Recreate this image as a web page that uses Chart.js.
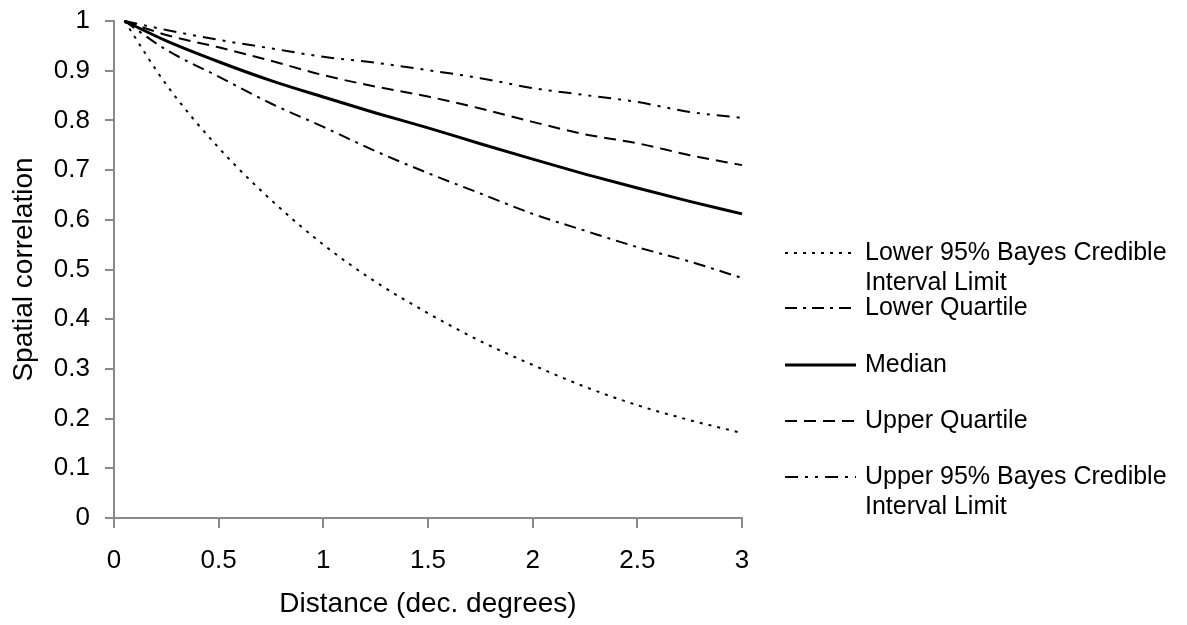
<!DOCTYPE html>
<html>
<head>
<meta charset="utf-8">
<title>Spatial correlation vs distance</title>
<script src="https://cdn.jsdelivr.net/npm/chart.js@4.4.1/dist/chart.umd.min.js"></script>
<style>
  html, body { margin: 0; padding: 0; background: #fff; }
  #wrap { width: 1187px; height: 625px; }
</style>
</head>
<body>
<div id="wrap"><canvas id="chart" width="1187" height="625"></canvas></div>
<script>
// distance in decimal degrees
const distance = [0.05, 0.25, 0.5, 0.75, 1, 1.25, 1.5, 1.75, 2, 2.25, 2.5, 2.75, 3];

// values
const lower95     = [1, 0.872, 0.745, 0.640, 0.550, 0.475, 0.412, 0.356, 0.308, 0.264, 0.227, 0.197, 0.171];
const lowerQuart  = [1, 0.942, 0.888, 0.834, 0.787, 0.738, 0.694, 0.653, 0.612, 0.578, 0.545, 0.516, 0.483];
const median      = [1, 0.960, 0.918, 0.880, 0.847, 0.815, 0.785, 0.753, 0.722, 0.692, 0.664, 0.637, 0.612];
const upperQuart  = [1, 0.972, 0.947, 0.920, 0.891, 0.868, 0.848, 0.824, 0.797, 0.772, 0.754, 0.730, 0.710];
const upper95     = [1, 0.982, 0.962, 0.945, 0.928, 0.916, 0.901, 0.885, 0.865, 0.851, 0.837, 0.817, 0.805];

const xTicks = [0, 0.5, 1, 1.5, 2, 2.5, 3];
const legendText = [
  ['Lower 95% Bayes Credible', 'Interval Limit'],
  ['Lower Quartile'],
  ['Median'],
  ['Upper Quartile'],
  ['Upper 95% Bayes Credible', 'Interval Limit']
];

const FONT = "'Liberation Sans', Arial, sans-serif";
const AXIS = '#8a8a8a';

function pts(ys) {
  return distance.map((x, i) => ({ x: x, y: ys[i] }));
}

function series(label, ys, width, dash) {
  return {
    label: label,
    data: pts(ys),
    borderColor: '#000',
    borderWidth: width,
    borderDash: dash,
    pointRadius: 0,
    fill: false,
    cubicInterpolationMode: 'monotone',
    clip: false
  };
}

function fmt(v) {
  return String(Math.round(v * 100) / 100);
}

// legend drawn on the right, lines use the dataset's own dash style
const sideLegend = {
  id: 'sideLegend',
  afterDraw(chart) {
    const c = chart.ctx;
    const rowY = [253, 308, 365, 421, 477];
    c.save();
    chart.data.datasets.forEach((ds, i) => {
      const y = rowY[i];
      c.beginPath();
      c.setLineDash(ds.borderDash || []);
      c.lineWidth = ds.borderWidth;
      c.strokeStyle = ds.borderColor;
      c.moveTo(785, y);
      c.lineTo(856, y);
      c.stroke();
      c.setLineDash([]);
      c.fillStyle = '#000';
      c.font = '25px ' + FONT;
      c.textBaseline = 'middle';
      c.textAlign = 'left';
      legendText[i].forEach((t, k) => c.fillText(t, 865, y + k * 30));
    });
    c.restore();
  }
};

new Chart(document.getElementById('chart'), {
  type: 'line',
  data: {
    datasets: [
      series('Lower 95% Bayes Credible Interval Limit', lower95, 2, [3, 6]),
      series('Lower Quartile', lowerQuart, 2, [12, 6, 3, 6]),
      series('Median', median, 3, []),
      series('Upper Quartile', upperQuart, 2, [12, 7]),
      series('Upper 95% Bayes Credible Interval Limit', upper95, 2, [13, 7, 3, 7, 3, 7])
    ]
  },
  options: {
    responsive: false,
    animation: false,
    devicePixelRatio: 1,
    layout: { padding: { top: 21, right: 445, left: 0, bottom: 0 } },
    plugins: {
      legend: { display: false },
      tooltip: { enabled: false }
    },
    scales: {
      x: {
        type: 'linear',
        min: 0,
        max: 3,
        afterBuildTicks: (s) => { s.ticks = xTicks.map(v => ({ value: v })); },
        afterFit: (s) => { s.height = 107; },
        grid: { drawOnChartArea: false, drawTicks: true, tickLength: 10, color: AXIS, lineWidth: 2 },
        border: { color: AXIS, width: 2 },
        ticks: { color: '#000', font: { family: FONT, size: 26 }, padding: 17, maxRotation: 0, callback: fmt },
        title: {
          display: true,
          text: 'Distance (dec. degrees)',
          color: '#000',
          font: { family: FONT, size: 28 },
          padding: { top: 0, bottom: 4 }
        }
      },
      y: {
        min: 0,
        max: 1,
        ticks: { stepSize: 0.1, color: '#000', font: { family: FONT, size: 26 }, padding: 15, callback: fmt },
        afterFit: (s) => { s.width = 114; s.paddingTop = 0; s.paddingBottom = 0; },
        grid: { drawOnChartArea: false, drawTicks: true, tickLength: 9, color: AXIS, lineWidth: 2 },
        border: { color: AXIS, width: 2 },
        title: {
          display: true,
          text: 'Spatial correlation',
          color: '#000',
          font: { family: FONT, size: 28 },
          padding: { top: 7, bottom: 0 }
        }
      }
    }
  },
  plugins: [sideLegend]
});
</script>
</body>
</html>
